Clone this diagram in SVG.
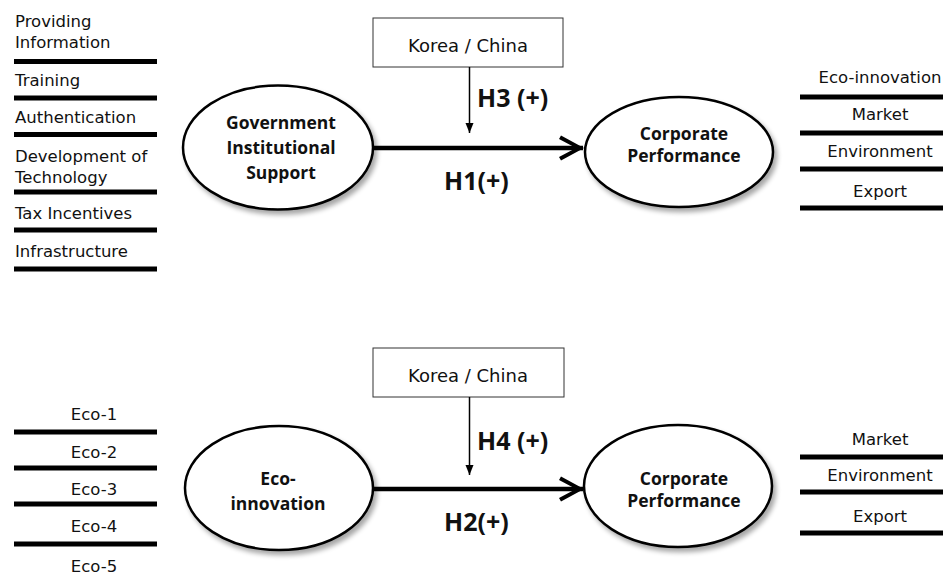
<svg xmlns="http://www.w3.org/2000/svg" width="943" height="578" viewBox="0 0 943 578">
  <style>
    .t { font-family: "DejaVu Sans", "Liberation Sans", sans-serif; font-size: 16.5px; fill: #111; }
    .k { font-size: 18px; text-anchor: middle; }
    .tm { text-anchor: middle; }
    .b { font-family: "Open Sans", "Liberation Sans", sans-serif; font-weight: bold; font-size: 17.5px; fill: #111; text-anchor: middle; }
    .h { font-family: "Open Sans", "Liberation Sans", sans-serif; font-weight: bold; font-size: 25px; fill: #111; }
    .bar { stroke: #000; stroke-width: 5; }
    .ell { fill: #fff; stroke: #000; stroke-width: 2.5; filter: url(#shadow); }
    .box { fill: #fff; stroke: #333; stroke-width: 1; }
    .mod { stroke: #000; stroke-width: 1.5; fill: none; marker-end: url(#small); }
    .main { stroke: #000; stroke-width: 4.5; fill: none; marker-end: url(#big); }
  </style>
  <defs>
    <filter id="shadow" x="-20%" y="-20%" width="150%" height="150%">
      <feGaussianBlur in="SourceAlpha" stdDeviation="2.5"/>
      <feOffset dx="3" dy="4" result="off"/>
      <feComponentTransfer><feFuncA type="linear" slope="0.35"/></feComponentTransfer>
      <feMerge><feMergeNode/><feMergeNode in="SourceGraphic"/></feMerge>
    </filter>
    <marker id="small" markerUnits="userSpaceOnUse" markerWidth="12" markerHeight="12" refX="10" refY="5" orient="auto">
      <path d="M0,1 L10,5 L0,9 Z" fill="#000"/>
    </marker>
    <!-- chevron head for the main paths -->
    <marker id="big" markerUnits="userSpaceOnUse" markerWidth="30" markerHeight="30" refX="24" refY="14" orient="auto">
      <path d="M25,14 L2,1.5 L0,5 L17,14 L0,23 L2,26.5 Z" fill="#000"/>
    </marker>
  </defs>

  <!-- upper model: indicator list, left -->
  <g id="gis-indicators">
    <text class="t" x="15" y="27">Providing</text>
    <text class="t" x="15" y="48">Information</text>
    <line class="bar" x1="14" y1="61.5" x2="157" y2="61.5"/>
    <text class="t" x="15" y="86">Training</text>
    <line class="bar" x1="14" y1="98" x2="157" y2="98"/>
    <text class="t" x="15" y="123">Authentication</text>
    <line class="bar" x1="14" y1="134.5" x2="157" y2="134.5"/>
    <text class="t" x="15" y="162">Development of</text>
    <text class="t" x="15" y="183">Technology</text>
    <line class="bar" x1="14" y1="192" x2="157" y2="192"/>
    <text class="t" x="15" y="219">Tax Incentives</text>
    <line class="bar" x1="14" y1="230" x2="157" y2="230"/>
    <text class="t" x="15" y="257">Infrastructure</text>
    <line class="bar" x1="14" y1="269" x2="157" y2="269"/>
  </g>

  <g id="gis">
    <ellipse class="ell" cx="278" cy="147.5" rx="95" ry="62"/>
    <text class="b" x="281" y="129">Government</text>
    <text class="b" x="281" y="154">Institutional</text>
    <text class="b" x="281" y="179">Support</text>
  </g>

  <g id="moderator-top">
    <rect class="box" x="373" y="18" width="190" height="49"/>
    <text class="t k" x="468" y="52">Korea / China</text>
  </g>

  <g id="cp-top">
    <ellipse class="ell" cx="679" cy="152" rx="94" ry="55"/>
    <text class="b" x="684" y="140">Corporate</text>
    <text class="b" x="684" y="162">Performance</text>
  </g>

  <g id="cp-top-indicators">
    <text class="t tm" x="880" y="83">Eco-innovation</text>
    <line class="bar" x1="800" y1="97" x2="943" y2="97"/>
    <text class="t tm" x="880" y="120">Market</text>
    <line class="bar" x1="800" y1="133" x2="943" y2="133"/>
    <text class="t tm" x="880" y="157">Environment</text>
    <line class="bar" x1="800" y1="169" x2="943" y2="169"/>
    <text class="t tm" x="880" y="197">Export</text>
    <line class="bar" x1="800" y1="208" x2="943" y2="208"/>
  </g>

  <!-- lower model -->
  <g id="eco-indicators">
    <text class="t tm" x="94" y="420">Eco-1</text>
    <line class="bar" x1="14" y1="432" x2="157" y2="432"/>
    <text class="t tm" x="94" y="458">Eco-2</text>
    <line class="bar" x1="14" y1="468" x2="157" y2="468"/>
    <text class="t tm" x="94" y="495">Eco-3</text>
    <line class="bar" x1="14" y1="504" x2="157" y2="504"/>
    <text class="t tm" x="94" y="532">Eco-4</text>
    <line class="bar" x1="14" y1="544" x2="157" y2="544"/>
    <text class="t tm" x="94" y="572">Eco-5</text>
  </g>

  <g id="eco">
    <ellipse class="ell" cx="279" cy="488" rx="94" ry="62"/>
    <text class="b" x="278" y="485">Eco-</text>
    <text class="b" x="278" y="510">innovation</text>
  </g>

  <g id="moderator-bottom">
    <rect class="box" x="373" y="348" width="191" height="49"/>
    <text class="t k" x="468" y="382">Korea / China</text>
  </g>

  <g id="cp-bottom">
    <ellipse class="ell" cx="678" cy="486" rx="94" ry="61"/>
    <text class="b" x="684" y="485">Corporate</text>
    <text class="b" x="684" y="507">Performance</text>
  </g>

  <g id="cp-bottom-indicators">
    <text class="t tm" x="880" y="445">Market</text>
    <line class="bar" x1="800" y1="457" x2="943" y2="457"/>
    <text class="t tm" x="880" y="481">Environment</text>
    <line class="bar" x1="800" y1="492" x2="943" y2="492"/>
    <text class="t tm" x="880" y="522">Export</text>
    <line class="bar" x1="800" y1="533" x2="943" y2="533"/>
  </g>

  <g id="connectors">
    <line class="main" x1="373" y1="148" x2="583" y2="148"/>
    <line class="mod" x1="469.5" y1="67" x2="469.5" y2="133"/>
    <line class="main" x1="373" y1="489" x2="583" y2="489"/>
    <line class="mod" x1="469.5" y1="397" x2="469.5" y2="475"/>
  </g>

  <g id="labels">
    <text class="h" x="477" y="107">H3 (+)</text>
    <text class="h" x="444" y="190">H1(+)</text>
    <text class="h" x="477" y="450">H4 (+)</text>
    <text class="h" x="444" y="531">H2(+)</text>
  </g>
</svg>
